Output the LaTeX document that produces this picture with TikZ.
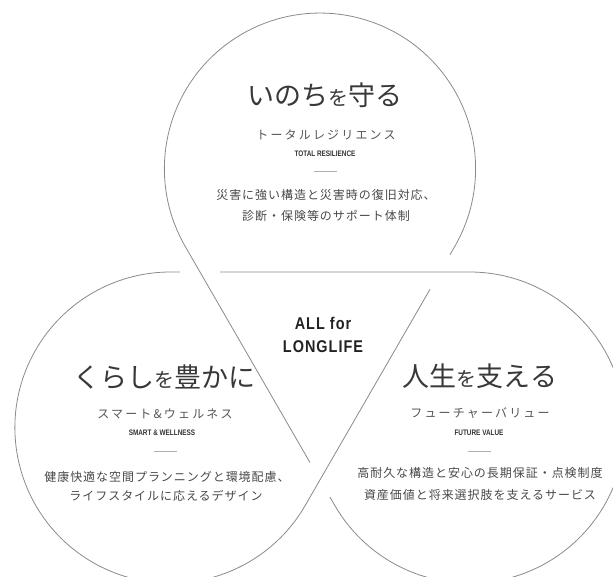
\documentclass[tikz,border=0pt]{standalone}
\usepackage{fontspec}
\usetikzlibrary{calc}
\newfontfamily\jpfont{Noto Sans CJK JP}
\newfontfamily\jpsub[LetterSpace=18]{Noto Sans CJK JP}
\newfontfamily\jpbody[LetterSpace=8]{Noto Sans CJK JP}
\newfontfamily\encond[FakeStretch=0.8]{Liberation Sans}
\newfontfamily\enhead[FakeStretch=0.85,LetterSpace=6]{Liberation Sans}
\definecolor{linegray}{HTML}{8A8A8A}
\definecolor{rulegray}{HTML}{B0B0B0}
\definecolor{titlegray}{HTML}{383838}
\definecolor{subgray}{HTML}{555555}
\definecolor{enggray}{HTML}{333333}
\definecolor{bodygray}{HTML}{484848}
\definecolor{headgray}{HTML}{222222}
\newcommand\smallwo{{\fontsize{20}{20}\selectfont を}}
\begin{document}
\begin{tikzpicture}[x=1pt,y=1pt,
  knot/.style={draw=linegray, line width=0.8pt},
  titletxt/.style={inner sep=0pt, text=titlegray, font=\jpfont\fontsize{27}{27}\selectfont},
  subtxt/.style={inner sep=0pt, text=subgray, font=\jpsub\fontsize{12}{12}\selectfont},
  engtxt/.style={inner sep=0pt, text=enggray, font=\encond\bfseries\fontsize{8}{8}\selectfont},
  bodytxt/.style={inner sep=0pt, text=bodygray, font=\jpbody\fontsize{12}{12}\selectfont},
  headtxt/.style={inner sep=0pt, text=headgray, font=\enhead\bfseries\fontsize{17}{17}\selectfont},
  shortrule/.style={draw=rulegray, line width=0.6pt}]
\useasboundingbox (0,0) rectangle (613,577);
\clip (0,0) rectangle (613,577);
% knot geometry
\coordinate (A) at (200,305);
\coordinate (B) at (440,305);
\coordinate (C) at (320,97.15);
\coordinate (T) at (320,408.3);
\coordinate (L) at (170.5,149.4);
\coordinate (Rc) at (469.5,149.4);
\draw[knot] ($(A)+(20,0)$) -- ($(Rc)+(90:155.6pt)$)
  arc[start angle=90,end angle=-150,radius=155.6pt] -- ($(C)+(10,-17.32)$);
\draw[knot] ($(C)+(-10,17.32)$) -- ($(T)+(210:155.6pt)$)
  arc[start angle=210,end angle=-30,radius=155.6pt] -- ($(B)+(10,17.32)$);
\draw[knot] ($(B)+(-10,-17.32)$) -- ($(L)+(-30:155.6pt)$)
  arc[start angle=-30,end angle=-270,radius=155.6pt] -- ($(A)+(-20,0)$);
% top lobe
\node[titletxt] (t1) at (325,482) {いのち\smallwo 守る};
\node[subtxt] (t2) at (326,442) {トータルレジリエンス};
\node[engtxt] (t3) at (325,423) {TOTAL RESILIENCE};
\coordinate (t4a) at (314,406); \coordinate (t4b) at (337,406);
\draw[shortrule] (t4a) -- (t4b);
\node[bodytxt] (t5) at (326,382) {災害に強い構造と災害時の復旧対応、};
\node[bodytxt] (t6) at (326,361) {診断・保険等のサポート体制};
% left lobe
\node[titletxt] (l1) at (164,200) {くらし\smallwo 豊かに};
\node[subtxt] (l2) at (165,163) {スマート\&ウェルネス};
\node[engtxt] (l3) at (162,144) {SMART \& WELLNESS};
\coordinate (l4a) at (154,126); \coordinate (l4b) at (177,126);
\draw[shortrule] (l4a) -- (l4b);
\node[bodytxt] (l5) at (167,100) {健康快適な空間プランニングと環境配慮、};
\node[bodytxt] (l6) at (166,81) {ライフスタイルに応えるデザイン};
% right lobe
\node[titletxt] (r1) at (480,201) {人生\smallwo 支える};
\node[subtxt] (r2) at (480,164) {フューチャーバリュー};
\node[engtxt] (r3) at (479,144) {FUTURE VALUE};
\coordinate (r4a) at (468,126); \coordinate (r4b) at (491,126);
\draw[shortrule] (r4a) -- (r4b);
\node[bodytxt] (r5) at (480,104) {高耐久な構造と安心の長期保証・点検制度};
\node[bodytxt] (r6) at (480,82) {資産価値と将来選択肢を支えるサービス};
% centre
\node[headtxt] (c1) at (323,254) {ALL for};
\node[headtxt] (c2) at (323,230) {LONGLIFE};
\end{tikzpicture}
\end{document}
